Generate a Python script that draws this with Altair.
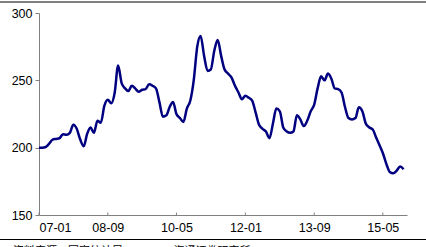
import altair as alt
import pandas as pd

values = [
    200, 200, 200.5, 203, 206, 206.5, 207, 210, 209.5, 211,
    217, 214, 206, 201, 210, 215, 211, 220, 218.5, 231,
    235.5, 233, 241, 261, 248, 244, 242, 246, 244, 241.5,
    243, 243.5, 247, 246, 244, 234, 223, 224, 230, 234,
    225, 222, 219, 229, 235, 250, 275, 283, 268, 257,
    258, 272, 280, 268, 258, 255, 252, 246, 241, 236,
    238.5, 237, 235, 226, 217, 214, 212, 207, 218, 229,
    227, 215, 212, 211, 212, 224, 221, 216, 220, 227,
    232, 244, 253, 250, 255, 251, 244, 243.5, 241, 230,
    222, 221, 222, 230, 227, 218, 215, 213.5, 208, 202,
    196, 188, 182, 181, 183, 186, 184,
]
dates = pd.date_range("2007-01-01", periods=len(values), freq="MS")
tick_dates = ["2007-01", "2008-09", "2010-05", "2012-01", "2013-09", "2015-05"]
y_ticks = [150, 200, 250, 300]
source_text = "资料来源：国家统计局，WIND，海通证券研究所"

df = pd.DataFrame({"date": dates, "value": values})
ticks_df = pd.DataFrame({"date": pd.to_datetime(tick_dates), "y0": 150, "y1": 151.8})

tick_vals = [alt.DateTime(year=int(t[:4]), month=int(t[5:]), date=1) for t in tick_dates]
x_scale = alt.Scale(domain=[alt.DateTime(year=2007, month=1, date=1),
                            alt.DateTime(year=2015, month=12, date=1)])
y_scale = alt.Scale(domain=[150, 300])

line = alt.Chart(df).mark_line(color="#000080", strokeWidth=2.5, interpolate="monotone").encode(
    x=alt.X("date:T", scale=x_scale,
            axis=alt.Axis(values=tick_vals, format="%y-%m", title=None, grid=False,
                          ticks=False, domainColor="#808080", labelColor="black",
                          labelFont="Liberation Sans", labelFontSize=12.5, labelPadding=6)),
    y=alt.Y("value:Q", scale=y_scale,
            axis=alt.Axis(values=y_ticks, title=None, grid=False, tickSize=4,
                          tickColor="#808080", domainColor="#808080", labelColor="black",
                          labelFont="Liberation Sans", labelFontSize=12.5, labelPadding=3)),
)

xticks = alt.Chart(ticks_df).mark_rule(color="#808080", strokeWidth=1).encode(
    x=alt.X("date:T", scale=x_scale),
    y=alt.Y("y0:Q", scale=y_scale),
    y2="y1:Q",
)

top_border = alt.Chart(df.head(1)).mark_rule(color="black", strokeWidth=1).encode(
    x=alt.value(-39), x2=alt.value(387), y=alt.value(-11)
)
bottom_border = alt.Chart(df.head(1)).mark_rule(color="black", strokeWidth=1).encode(
    x=alt.value(-39), x2=alt.value(387), y=alt.value(226.5)
)
note = alt.Chart(pd.DataFrame({"t": [source_text]})).mark_text(
    align="left", baseline="top", fontSize=11, font="Noto Sans CJK SC", color="black"
).encode(x=alt.value(-26), y=alt.value(233), text="t:N")

chart = alt.layer(line, xticks, top_border, bottom_border, note).properties(
    width=368, height=202,
    autosize=alt.AutoSizeParams(type="none"),
    padding={"left": 39, "top": 13, "right": 19, "bottom": 32},
    background="white",
).configure_view(strokeWidth=0)

chart.save("out.html", embed_options={"renderer": "svg", "actions": False})
